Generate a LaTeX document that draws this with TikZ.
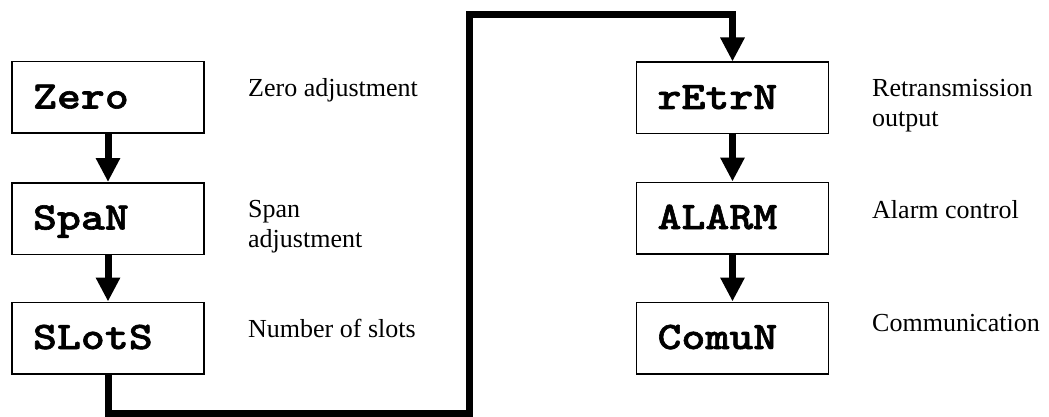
\documentclass[tikz,border=0pt]{standalone}
\usepackage{fontspec}
\setmainfont{Liberation Serif}
\newfontfamily\codefont{lmmonolt10-bold.otf}[FakeStretch=1.17,FakeBold=1.5]
\usetikzlibrary{arrows.meta}
\begin{document}
\begin{tikzpicture}[x=1pt,y=-1pt,
  stepbox/.style={draw, line width=1.5pt, minimum width=192pt, minimum height=71.5pt,
    inner xsep=21pt, inner ysep=0pt, text width=150pt, align=left,
    font=\codefont\fontsize{39}{39}\selectfont,
    text height=22pt, text depth=0pt},
  desc/.style={anchor=base west, inner sep=0pt, font=\fontsize{26}{30}\selectfont},
  flow/.style={line width=7pt, line join=miter, -{Triangle[length=24pt,width=23pt]}}
]
\useasboundingbox (0,0) rectangle (1049,417);
% left column
\node[stepbox] (zero)  at (108,97.5)  {Zero};
\node[stepbox] (span)  at (108,218.5) {SpaN};
\node[stepbox] (slots) at (108,338)   {SLotS};
% right column
\node[stepbox] (retrn) at (732.5,98)  {rEtrN};
\node[stepbox] (alarm) at (732.5,218) {ALARM};
\node[stepbox] (comun) at (732.5,338) {ComuN};
% descriptions
\node[desc] (dzero)  at (248,97)  {Zero adjustment};
\node[desc] (dspan)  at (248,217) {\begin{tabular}[t]{@{}l@{}}Span\\adjustment\end{tabular}};
\node[desc] (dslots) at (248,337) {Number of slots};
\node[desc] (dretrn) at (872,97)  {\begin{tabular}[t]{@{}l@{}}Retransmission\\output\end{tabular}};
\node[desc] (dalarm) at (872,218) {Alarm control};
\node[desc] (dcomun) at (872,331) {Communication};
% connectors
\coordinate (b1) at (469,413.5);
\coordinate (t1) at (469,15);
\draw[flow] (zero) -- (span);
\draw[flow] (span) -- (slots);
\draw[flow] (retrn) -- (alarm);
\draw[flow] (alarm) -- (comun);
\draw[flow] (slots.south) |- (b1) -- (t1) -| (retrn.north);
\end{tikzpicture}
\end{document}
